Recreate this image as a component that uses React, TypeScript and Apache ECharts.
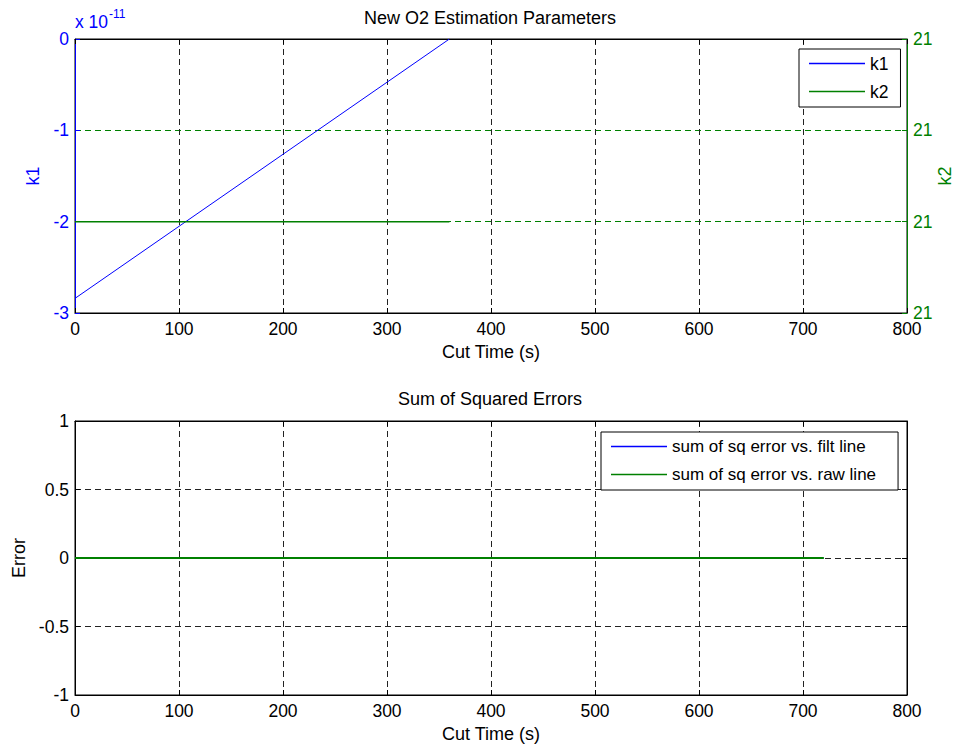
import React, { useEffect, useRef } from "react";
import * as echarts from "echarts";

// Top panel: k1 (scaled by 1e-11) and k2 versus cut time
const timeTop = [0, 360];
const k1Values = [-2.84, 0];
const k2Values = [21.0001, 21.0001];
const k1Ticks = [-3, -2, -1, 0];
const k2TickLabel = "21";

// Bottom panel: sum of squared errors versus cut time
const timeBottom = [0, 720];
const errFilt = [0, 0];
const errRaw = [0, 0];

const xTicks = [0, 100, 200, 300, 400, 500, 600, 700, 800];

const BLUE = "#0000ff";
const GREEN = "#008000";
const FONT = "Liberation Sans, Arial, sans-serif";

const zip = (xs: number[], ys: number[]) => xs.map((x, i) => [x, ys[i]]);

export default function App() {
  const ref = useRef<HTMLDivElement>(null);
  useEffect(() => {
    if (!ref.current) return;
    const chart = echarts.init(ref.current, undefined, { renderer: "svg" });
    const tickLabel = { fontFamily: FONT, fontSize: 17.5 };
    const nameFont = { fontFamily: FONT, fontSize: 18 };
    const dash = { type: [6, 4] as any, width: 1 };
    const plotL = 75, plotW = 832, plotH = 274, topT = 39, botT = 421;
    const xBase = (gridIndex: number, position: "bottom" | "top", labels: boolean, name?: string) => ({
      type: "value",
      gridIndex,
      position,
      min: xTicks[0],
      max: xTicks[xTicks.length - 1],
      interval: 100,
      name: name,
      nameLocation: "middle",
      nameGap: 30,
      nameTextStyle: { ...nameFont, color: "#000" },
      axisLine: { show: true, onZero: false, lineStyle: { color: "#000", width: 1 } },
      axisTick: { show: true, inside: true, length: 5, lineStyle: { color: "#000" } },
      axisLabel: { show: labels, color: "#000", margin: 7, ...tickLabel },
      splitLine: { show: labels, lineStyle: { color: "#222", ...dash } },
    });
    const gridBase = { left: plotL, width: plotW, height: plotH, show: true, borderColor: "#000", borderWidth: 1, backgroundColor: "transparent", containLabel: false, outerBoundsMode: "none" };
    chart.setOption({
      animation: false,
      backgroundColor: "#fff",
      grid: [
        { ...gridBase, top: topT },
        { ...gridBase, top: botT },
      ],
      xAxis: [
        xBase(0, "bottom", true, "Cut Time (s)"),
        xBase(0, "top", false),
        xBase(1, "bottom", true, "Cut Time (s)"),
        xBase(1, "top", false),
      ],
      yAxis: [
        {
          type: "value", gridIndex: 0, position: "left",
          min: k1Ticks[0], max: k1Ticks[k1Ticks.length - 1], interval: 1,
          name: "k1", nameLocation: "middle", nameGap: 33,
          nameTextStyle: { ...nameFont, color: BLUE },
          axisLine: { show: true, onZero: false, lineStyle: { color: BLUE } },
          axisTick: { show: true, inside: true, length: 5, lineStyle: { color: BLUE } },
          axisLabel: { color: BLUE, margin: 6, ...tickLabel },
          splitLine: { show: false },
        },
        {
          type: "value", gridIndex: 0, position: "right",
          min: 21.0, max: 21.0003, interval: 0.0001,
          axisLine: { show: true, onZero: false, lineStyle: { color: GREEN } },
          axisTick: { show: true, inside: true, length: 5, lineStyle: { color: GREEN } },
          axisLabel: { color: GREEN, margin: 6, formatter: () => k2TickLabel, ...tickLabel },
          splitLine: { show: true, lineStyle: { color: GREEN, ...dash } },
        },
        {
          type: "value", gridIndex: 1, position: "left",
          min: -1, max: 1, interval: 0.5,
          name: "Error", nameLocation: "middle", nameGap: 46,
          nameTextStyle: { ...nameFont, color: "#000" },
          axisLine: { show: true, onZero: false, lineStyle: { color: "#000" } },
          axisTick: { show: true, inside: true, length: 5, lineStyle: { color: "#000" } },
          axisLabel: { color: "#000", margin: 6, ...tickLabel },
          splitLine: { show: true, lineStyle: { color: "#222", ...dash } },
        },
        {
          type: "value", gridIndex: 1, position: "right",
          min: -1, max: 1, interval: 0.5,
          axisLine: { show: true, onZero: false, lineStyle: { color: "#000" } },
          axisTick: { show: true, inside: true, length: 5, lineStyle: { color: "#000" } },
          axisLabel: { show: false },
          splitLine: { show: false },
        },
      ],
      legend: [
        {
          data: ["k1", "k2"],
          orient: "vertical", left: 799, top: 49,
          padding: [5, 12, 6, 10], itemGap: 9,
          itemWidth: 56, itemHeight: 1.5, icon: "rect",
          borderColor: "#000", borderWidth: 1, backgroundColor: "#fff",
          textStyle: { fontFamily: FONT, fontSize: 17.5, color: "#000", lineHeight: 19 },
        },
        {
          data: ["sum of sq error vs. filt line", "sum of sq error vs. raw line"],
          orient: "vertical", left: 601, top: 432,
          padding: [5, 22, 6, 10], itemGap: 9,
          itemWidth: 56, itemHeight: 1.5, icon: "rect",
          borderColor: "#000", borderWidth: 1, backgroundColor: "#fff",
          textStyle: { fontFamily: FONT, fontSize: 17, color: "#000", lineHeight: 19 },
        },
      ],
      graphic: [
        { type: "text", x: 490, y: 18, style: { text: "New O2 Estimation Parameters", fontFamily: FONT, fontSize: 18, fill: "#000", align: "center", verticalAlign: "middle" } },
        { type: "text", x: 490, y: 399, style: { text: "Sum of Squared Errors", fontFamily: FONT, fontSize: 18, fill: "#000", align: "center", verticalAlign: "middle" } },
        { type: "text", x: 945, y: 176, rotation: Math.PI / 2, style: { text: "k2", fontFamily: FONT, fontSize: 18, fill: GREEN, align: "center", verticalAlign: "middle" } },
        {
          type: "text", x: 75, y: 5,
          style: {
            text: "{b|x 10}{s|-11}",
            rich: {
              b: { fontFamily: FONT, fontSize: 17.5, fill: BLUE, padding: [8, 0, 0, 0] },
              s: { fontFamily: FONT, fontSize: 12, fill: BLUE, padding: [0, 0, 8, 1] },
            },
          },
        },
      ],
      series: [
        { name: "k1", type: "line", xAxisIndex: 0, yAxisIndex: 0, data: zip(timeTop, k1Values), symbol: "none", lineStyle: { color: BLUE, width: 1 }, itemStyle: { color: BLUE }, z: 5 },
        { name: "k2", type: "line", xAxisIndex: 0, yAxisIndex: 1, data: zip(timeTop, k2Values), symbol: "none", lineStyle: { color: GREEN, width: 1.5 }, itemStyle: { color: GREEN }, z: 5 },
        { name: "sum of sq error vs. filt line", type: "line", xAxisIndex: 2, yAxisIndex: 2, data: zip(timeBottom, errFilt), symbol: "none", lineStyle: { color: BLUE, width: 1 }, itemStyle: { color: BLUE }, z: 5 },
        { name: "sum of sq error vs. raw line", type: "line", xAxisIndex: 2, yAxisIndex: 2, data: zip(timeBottom, errRaw), symbol: "none", lineStyle: { color: GREEN, width: 2 }, itemStyle: { color: GREEN }, z: 6 },
      ],
    });
    return () => chart.dispose();
  }, []);
  return <div ref={ref} style={{ width: 958, height: 750, position: "absolute", left: 0, top: 0 }} />;
}
